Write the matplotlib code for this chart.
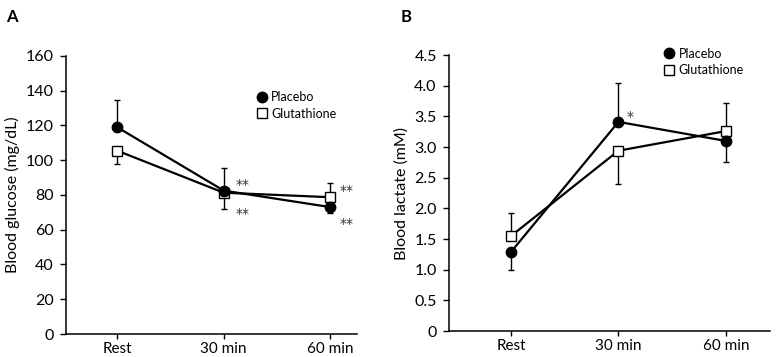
import matplotlib
matplotlib.use("Agg")
import matplotlib.pyplot as plt
from matplotlib.lines import Line2D
import numpy as np

plt.rcParams["font.family"] = ["Lato", "DejaVu Sans"]

timepoints = ["Rest", "30 min", "60 min"]

# panel A: blood glucose (mg/dL)
glucose_placebo = [119, 82.5, 73]
glucose_placebo_lo = [0, 0, 3.5]
glucose_placebo_hi = [15.7, 13.2, 0]
glucose_glut = [105.5, 81.3, 78.7]
glucose_glut_lo = [7.8, 9.5, 0]
glucose_glut_hi = [0, 0, 8.2]
glucose_yticks = [0, 20, 40, 60, 80, 100, 120, 140, 160]
glucose_ylabels = ["0", "20", "40", "60", "80", "100", "120", "140", "160"]

# panel B: blood lactate (mM)
lactate_placebo = [1.29, 3.41, 3.10]
lactate_placebo_lo = [0.29, 0, 0.35]
lactate_placebo_hi = [0, 0.63, 0]
lactate_glut = [1.55, 2.94, 3.26]
lactate_glut_lo = [0, 0.54, 0]
lactate_glut_hi = [0.37, 0, 0.45]
lactate_yticks = [0, 0.5, 1.0, 1.5, 2.0, 2.5, 3.0, 3.5, 4.0, 4.5]
lactate_ylabels = ["0", "0.5", "1.0", "1.5", "2.0", "2.5", "3.0", "3.5", "4.0", "4.5"]

LW = 1.6
STAR_FONT = ["DejaVu Sans"]
STAR_COLOR = "#333333"


def draw_panel(ax, placebo, p_lo, p_hi, glut, g_lo, g_hi):
    x = np.arange(len(timepoints))
    ax.errorbar(x, placebo, yerr=[p_lo, p_hi], fmt="none", ecolor="black",
                elinewidth=1.0, capsize=2.5, capthick=1.0, zorder=2)
    ax.errorbar(x, glut, yerr=[g_lo, g_hi], fmt="none", ecolor="black",
                elinewidth=1.0, capsize=2.5, capthick=1.0, zorder=2)
    ax.plot(x, glut, color="black", lw=LW, marker="s", markersize=6.5,
            markerfacecolor="white", markeredgecolor="black",
            markeredgewidth=1.0, zorder=3)
    ax.plot(x, placebo, color="black", lw=LW, marker="o", markersize=7.5,
            markerfacecolor="black", markeredgecolor="black", zorder=4)
    ax.set_xticks(x)
    ax.set_xticklabels(timepoints, fontsize=11)
    for s in ("top", "right"):
        ax.spines[s].set_visible(False)
    for s in ("left", "bottom"):
        ax.spines[s].set_linewidth(1.1)
    ax.tick_params(axis="y", direction="out", length=4, width=1.0,
                   labelsize=11.5, pad=5)
    ax.tick_params(axis="x", direction="out", length=3.5, width=1.0,
                   labelsize=11, pad=2)


def add_legend(ax, anchor):
    handles = [
        Line2D([], [], ls="none", marker="o", markersize=7.5, color="black"),
        Line2D([], [], ls="none", marker="s", markersize=6.5,
               markerfacecolor="white", markeredgecolor="black",
               markeredgewidth=1.0),
    ]
    ax.legend(handles, ["Placebo", "Glutathione"], loc="center left",
              bbox_to_anchor=anchor, frameon=False, fontsize=9,
              handlelength=0.8, handletextpad=0.35, labelspacing=0.35,
              borderpad=0, borderaxespad=0)


fig = plt.figure(figsize=(7.78, 3.57), dpi=100)

axA = fig.add_axes([0.0848, 0.0644, 0.374, 0.779])
draw_panel(axA, glucose_placebo, glucose_placebo_lo, glucose_placebo_hi,
           glucose_glut, glucose_glut_lo, glucose_glut_hi)
axA.set_xlim(-0.48, 2.25)
axA.set_ylim(0, 160)
axA.set_yticks(glucose_yticks)
axA.set_yticklabels(glucose_ylabels)
axA.set_ylabel("Blood glucose (mg/dL)", fontsize=11.5, labelpad=4)
add_legend(axA, (0.655, 0.822))
for xi, yi in [(1.175, 85.8), (1.175, 68.8), (2.155, 82.2), (2.155, 63.4)]:
    axA.text(xi, yi, "**", ha="center", va="center", fontsize=10,
             family=STAR_FONT, color=STAR_COLOR)

axB = fig.add_axes([0.5775, 0.0728, 0.412, 0.773])
draw_panel(axB, lactate_placebo, lactate_placebo_lo, lactate_placebo_hi,
           lactate_glut, lactate_glut_lo, lactate_glut_hi)
axB.set_xlim(-0.575, 2.41)
axB.set_ylim(0, 4.5)
axB.set_yticks(lactate_yticks)
axB.set_yticklabels(lactate_ylabels)
axB.set_ylabel("Blood lactate (mM)", fontsize=11.5, labelpad=4)
add_legend(axB, (0.67, 0.975))
axB.text(1.11, 3.49, "*", ha="center", va="center", fontsize=10,
         family=STAR_FONT, color=STAR_COLOR)

fig.text(0.008, 0.975, "A", fontsize=12, fontweight="bold", va="top")
fig.text(0.515, 0.975, "B", fontsize=12, fontweight="bold", va="top")

fig.savefig("out.png", dpi=100)
